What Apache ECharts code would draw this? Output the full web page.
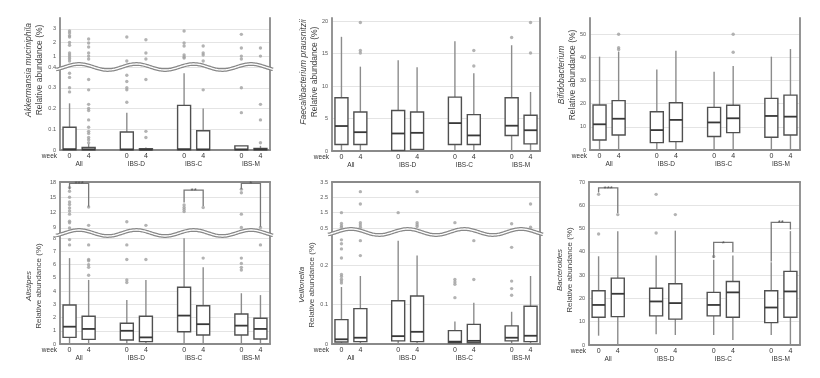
<!DOCTYPE html>
<html>
<head>
<meta charset="utf-8">
<script src="https://cdn.jsdelivr.net/npm/echarts@6/dist/echarts.min.js"></script>
<style>
  html, body { margin: 0; background: #fff; }
  #chart { width: 820px; height: 378px; }
</style>
</head>
<body>
<div id="chart"></div>
<script>
// box order: All 0/4, IBS-D 0/4, IBS-C 0/4, IBS-M 0/4
const positions = [0, 1, 3, 4, 6, 7, 9, 10];
const weekLabels = ['0', '4', '0', '4', '0', '4', '0', '4'];
const groups = ['All', 'IBS-D', 'IBS-C', 'IBS-M'];
const groupCenters = [0.5, 3.5, 6.5, 9.5];

// [min, Q1, median, Q3, max]
const akkStats = [
  [0, 0.001, 0.004, 0.11, 0.225], [0, 0.001, 0.003, 0.012, 0.03],
  [0, 0.001, 0.003, 0.087, 0.18], [0, 0.001, 0.002, 0.006, 0.012],
  [0, 0.001, 0.004, 0.215, 0.37], [0, 0.001, 0.003, 0.093, 0.2],
  [0, 0.001, 0.003, 0.02, 0.02], [0, 0.001, 0.003, 0.008, 0.02]
];
const akkOutliers = [
  [2.85, 2.7, 2.5, 2.4, 2.0, 1.8, 1.23, 1.08, 0.94, 0.8, 0.64, 0.37, 0.35, 0.3, 0.28],
  [2.26, 1.96, 1.67, 1.23, 1.0, 0.79, 0.34, 0.29, 0.22, 0.2, 0.19, 0.145, 0.11, 0.09, 0.08, 0.06, 0.05, 0.035],
  [2.4, 0.64, 0.36, 0.33, 0.3, 0.29, 0.23],
  [2.2, 1.23, 0.79, 0.34, 0.09, 0.06],
  [2.85, 1.96, 1.74, 1.08, 0.94, 0.86],
  [1.74, 1.23, 1.08, 0.64, 0.29],
  [2.6, 1.6, 1.0, 0.79, 0.3, 0.18],
  [1.6, 1.0, 0.22, 0.145, 0.035]
];
const akkLowerTicks = [0, 0.1, 0.2, 0.3, 0.4];
const akkUpperTicks = [1, 2, 3];

const faecalStats = [
  [0, 1.0, 3.85, 8.2, 17.6], [0, 1.0, 2.9, 6.0, 13.0],
  [0, 0.1, 2.7, 6.25, 14.0], [0, 0.25, 2.8, 6.0, 12.9],
  [0, 1.0, 4.3, 8.3, 16.9], [0, 1.0, 2.4, 5.6, 12.0],
  [0, 2.4, 3.9, 8.2, 16.3], [0, 1.1, 3.2, 5.5, 9.1]
];
const faecalOutliers = [[], [19.8, 15.5, 15.1], [], [], [], [15.5, 13.1], [17.5], [19.8, 15.1]];
const faecalTicks = [0, 5, 10, 15, 20];

const bifidoStats = [
  [0, 4.3, 11.1, 19.4, 40.3], [0, 6.5, 13.5, 21.3, 42.5],
  [0, 3.2, 8.6, 16.5, 34.8], [0, 3.6, 13.0, 20.4, 42.9],
  [0, 5.8, 11.9, 18.4, 33.8], [0, 7.5, 13.7, 19.3, 36.3],
  [0, 5.5, 14.7, 22.3, 40.3], [0, 6.5, 14.4, 23.7, 43.6]
];
const bifidoOutliers = [[], [50, 44.2, 43.4], [], [], [], [50, 42.2], [], []];
const bifidoTicks = [0, 10, 20, 30, 40, 50];

const alistipesStats = [
  [0.05, 0.5, 1.31, 2.95, 6.5], [0.05, 0.35, 1.14, 2.1, 4.85],
  [0.05, 0.3, 1.0, 1.57, 3.33], [0.05, 0.18, 0.5, 2.1, 4.85],
  [0.05, 0.93, 2.15, 4.3, 8.0], [0.05, 0.68, 1.5, 2.9, 5.8],
  [0.05, 0.68, 1.39, 2.27, 3.84], [0.05, 0.38, 1.14, 1.95, 3.7]
];
const alistipesOutliers = [
  [16.9, 16.2, 15.0, 14.1, 13.6, 12.9, 12.3, 11.7, 10.3, 10.0, 9.0, 7.9, 7.5],
  [13.1, 9.5, 7.5, 6.4, 6.3, 6.0, 5.8, 5.2],
  [10.2, 7.5, 6.4, 4.85, 4.65],
  [9.5, 6.4],
  [13.5, 13.0, 12.6, 12.2],
  [13.0, 6.5],
  [16.6, 15.9, 11.7, 9.1, 6.5, 6.1, 5.8, 5.6],
  [9.1, 7.5]
];
const alistipesLowerTicks = [0, 1, 2, 3, 4, 5, 6, 7, 8];
const alistipesUpperTicks = [9, 12, 15, 18];
// [left box, right box, top, left leg end, right leg end]
const alistipesSig = [[0, 1, 17.75, 16.6, 13.2], [6, 7, 16.4, 14.0, 13.3], [9, 10, 17.75, 16.6, 9.25]];
const alistipesMarks = ['***', '**', '*'];

const veillonellaStats = [
  [0, 0.005, 0.012, 0.062, 0.145], [0, 0.006, 0.016, 0.09, 0.173],
  [0, 0.008, 0.02, 0.11, 0.263], [0, 0.006, 0.031, 0.122, 0.225],
  [0, 0.003, 0.006, 0.034, 0.057], [0, 0.003, 0.008, 0.05, 0.105],
  [0, 0.008, 0.016, 0.046, 0.082], [0, 0.006, 0.021, 0.096, 0.173]
];
const veillonellaOutliers = [
  [1.5, 0.8, 0.65, 0.55, 0.265, 0.255, 0.242, 0.219, 0.177, 0.172, 0.165, 0.16, 0.155],
  [2.87, 2.07, 0.85, 0.7, 0.55, 0.263, 0.225],
  [1.5],
  [2.87, 0.85, 0.72, 0.6],
  [0.85, 0.164, 0.158, 0.152, 0.118],
  [0.263, 0.164],
  [0.78, 0.246, 0.16, 0.141, 0.124],
  [2.07, 0.55]
];
const veillonellaLowerTicks = [0, 0.1, 0.2];
const veillonellaUpperTicks = [0.5, 1.5, 2.5, 3.5];

const bacteroidesStats = [
  [4.0, 11.9, 17.2, 23.3, 38.1], [0, 12.2, 22.0, 28.7, 48.9],
  [4.6, 12.5, 18.7, 24.4, 38.4], [4.3, 11.1, 18.0, 26.3, 49.1],
  [4.3, 12.5, 17.2, 22.6, 36.6], [2.2, 11.9, 22.6, 27.3, 38.4],
  [4.3, 9.6, 16.1, 23.3, 35.5], [0, 11.9, 23.0, 31.6, 48.9]
];
const bacteroidesOutliers = [[64.7, 47.7], [56], [64.7, 48.1], [56], [38], [], [], []];
const bacteroidesTicks = [0, 10, 20, 30, 40, 50, 60, 70];
const bacteroidesSig = [[0, 1, 67.5, 65.5, 56.7], [6, 7, 44.1, 37.4, 39.8], [9, 10, 52.7, 35.9, 49.6]];
const bacteroidesMarks = ['***', '*', '**'];

const FONT = '"Liberation Sans", Arial, sans-serif';
const AXIS = '#8a8a8a';
const BOX_W = 13;

const panels = [
  { rect: [60, 18, 270, 150], breakY: 67, frameTop: false, title: 'Akkermansia muciniphila', nameAt: [34, 70], nameSize: 8.5,
    stats: akkStats, outliers: akkOutliers,
    lower: { max: 0.4, ticks: akkLowerTicks }, upper: { min: 0.2, max: 3.8, ticks: akkUpperTicks } },
  { rect: [332, 18, 540, 151], frameTop: false, title: 'Faecalibacterium prausnitzii', nameAt: [309, 72], nameSize: 8.5,
    stats: faecalStats, outliers: faecalOutliers, lower: { max: 20.5, ticks: faecalTicks } },
  { rect: [590, 18, 800, 150], frameTop: false, title: 'Bifidobacterium', nameAt: [567, 75], nameSize: 8.5,
    stats: bifidoStats, outliers: bifidoOutliers, lower: { max: 57, ticks: bifidoTicks } },
  { rect: [60, 182, 270, 344], breakY: 233, frameTop: true, title: 'Alistipes', nameAt: [34, 286], nameSize: 8,
    stats: alistipesStats, outliers: alistipesOutliers, sig: alistipesSig, marks: alistipesMarks,
    lower: { max: 8.4, ticks: alistipesLowerTicks }, upper: { min: 8, max: 18, ticks: alistipesUpperTicks } },
  { rect: [332, 182, 540, 344], breakY: 232, frameTop: true, title: 'Veillonella', nameAt: [307, 285], nameSize: 8,
    stats: veillonellaStats, outliers: veillonellaOutliers,
    lower: { max: 0.285, ticks: veillonellaLowerTicks }, upper: { min: 0.24, max: 3.5, ticks: veillonellaUpperTicks } },
  { rect: [589, 182, 800, 345], frameTop: true, title: 'Bacteroides', nameAt: [565, 270], nameSize: 8,
    stats: bacteroidesStats, outliers: bacteroidesOutliers, sig: bacteroidesSig, marks: bacteroidesMarks,
    lower: { max: 70, ticks: bacteroidesTicks } }
];

const option = { animation: false, textStyle: { fontFamily: FONT }, grid: [], xAxis: [], yAxis: [], series: [], graphic: [] };

function addGrid(l, t, r, b) {
  option.grid.push({ left: l, top: t, width: r - l, height: b - t, outerBoundsMode: 'none' });
  return option.grid.length - 1;
}

function addX(cfg) {
  option.xAxis.push(Object.assign({
    type: 'value', min: -0.5, max: 10.5,
    axisLine: { show: false, onZero: false }, axisTick: { show: false },
    axisLabel: { show: false }, splitLine: { show: false }
  }, cfg));
  return option.xAxis.length - 1;
}

function addY(cfg) {
  option.yAxis.push(Object.assign({
    type: 'value', axisTick: { show: false }, axisLabel: { show: false }, splitLine: { show: false },
    axisLine: { show: true, onZero: false, lineStyle: { color: AXIS, width: 1.8 } }
  }, cfg));
  return option.yAxis.length - 1;
}

function addValueAxes(gi, min, max, ticks) {
  const yi = addY({
    gridIndex: gi, min, max, position: 'left',
    axisTick: { show: false, customValues: ticks },
    axisLabel: { show: true, customValues: ticks, fontSize: 5.5, color: '#555', margin: 4 },
    splitLine: { show: true, lineStyle: { color: '#e4e4e4', width: 1 } }
  });
  addY({ gridIndex: gi, min, max, position: 'right' });
  return yi;
}

function renderBox(params, api) {
  const x = api.value(0);
  const lo = api.coord([x, api.value(1)]);
  const q1 = api.coord([x, api.value(2)]);
  const md = api.coord([x, api.value(3)]);
  const q3 = api.coord([x, api.value(4)]);
  const hi = api.coord([x, api.value(5)]);
  const w = BOX_W / 2;
  const whisker = { stroke: '#8c8c8c', lineWidth: 1.4 };
  return {
    type: 'group',
    children: [
      { type: 'line', shape: { x1: lo[0], y1: lo[1], x2: q1[0], y2: q1[1] }, style: whisker },
      { type: 'line', shape: { x1: q3[0], y1: q3[1], x2: hi[0], y2: hi[1] }, style: whisker },
      { type: 'rect', shape: { x: q3[0] - w, y: q3[1], width: 2 * w, height: q1[1] - q3[1] },
        style: { stroke: '#505050', lineWidth: 1.4, fill: '#fff' } },
      { type: 'line', shape: { x1: md[0] - w, y1: md[1], x2: md[0] + w, y2: md[1] },
        style: { stroke: '#383838', lineWidth: 1.8 } }
    ]
  };
}

function bracketRenderer(marks) {
  return function (params, api) {
    const a = api.coord([api.value(0), api.value(2)]);
    const b = api.coord([api.value(1), api.value(2)]);
    const l = api.coord([api.value(0), api.value(3)]);
    const r = api.coord([api.value(1), api.value(4)]);
    return {
      type: 'group',
      children: [
        { type: 'polyline', shape: { points: [l, a, b, r] }, style: { stroke: '#777', lineWidth: 1.3, fill: null } },
        { type: 'text', x: (a[0] + b[0]) / 2, y: a[1] + 1,
          style: { text: marks[params.dataIndex], fontSize: 8, fontFamily: FONT, fill: '#555', align: 'center', verticalAlign: 'middle' } }
      ]
    };
  };
}

function wavePoints(p) {
  const [l, , r] = p.rect;
  const slot = (r - l) / 11;
  const pts = [];
  for (let x = l - 4; x <= r + 3; x += 1) {
    pts.push([x, p.breakY - 3 * Math.cos(2 * Math.PI * (x - l - slot) / (3 * slot))]);
  }
  return pts;
}

panels.forEach(p => {
  const [l, t, r, b] = p.rect;
  const broken = !!p.upper;
  const gLow = addGrid(l, broken ? p.breakY : t, r, b);
  const xLow = addX({
    gridIndex: gLow, position: 'bottom',
    name: 'week', nameLocation: 'start', nameGap: 3,
    nameTextStyle: { fontSize: 6.5, color: '#333', verticalAlign: 'top', padding: [3, 0, 0, 0] },
    axisLine: { show: true, onZero: false, lineStyle: { color: AXIS, width: 1.8 } },
    axisTick: { show: false, customValues: positions },
    axisLabel: { show: true, customValues: positions, fontSize: 7, color: '#333', margin: 3,
      formatter: v => weekLabels[positions.indexOf(v)] }
  });
  addX({
    gridIndex: gLow, position: 'bottom', offset: 9,
    axisTick: { show: false, customValues: groupCenters },
    axisLabel: { show: true, customValues: groupCenters, fontSize: 6.5, color: '#333', margin: 2,
      formatter: v => groups[groupCenters.indexOf(v)] }
  });
  const yLow = addValueAxes(gLow, 0, p.lower.max, p.lower.ticks);

  let xTop = xLow, yTop = yLow, gTop = gLow;
  if (broken) {
    gTop = addGrid(l, t, r, p.breakY);
    xTop = addX({ gridIndex: gTop, position: 'bottom' });
    yTop = addValueAxes(gTop, p.upper.min, p.upper.max, p.upper.ticks);
  }
  if (p.frameTop) {
    addX({ gridIndex: gTop, position: 'top',
      axisLine: { show: true, onZero: false, lineStyle: { color: AXIS, width: 1.8 } } });
  }

  option.series.push({
    type: 'custom', xAxisIndex: xLow, yAxisIndex: yLow, silent: true, z: 3,
    renderItem: renderBox, encode: { x: 0, y: [1, 2, 3, 4, 5] },
    data: p.stats.map((s, i) => [positions[i]].concat(s))
  });

  const lowPts = [], upPts = [];
  p.outliers.forEach((vals, i) => vals.forEach(v => {
    (broken && v > p.lower.max ? upPts : lowPts).push([positions[i], v]);
  }));
  const dot = { type: 'scatter', symbolSize: 3.4, itemStyle: { color: '#a0a0a0' }, silent: true, z: 4 };
  option.series.push(Object.assign({ xAxisIndex: xLow, yAxisIndex: yLow, data: lowPts }, dot));
  if (broken) option.series.push(Object.assign({ xAxisIndex: xTop, yAxisIndex: yTop, data: upPts }, dot));

  if (p.sig) {
    option.series.push({
      type: 'custom', xAxisIndex: xTop, yAxisIndex: yTop, silent: true, z: 5, clip: false,
      renderItem: bracketRenderer(p.marks), encode: { x: [0, 1], y: [2, 3, 4] },
      data: p.sig
    });
  }

  if (broken) {
    const pts = wavePoints(p);
    option.graphic.push({ type: 'polyline', z: 100, shape: { points: pts }, style: { stroke: '#888', lineWidth: 3.8, fill: null } });
    option.graphic.push({ type: 'polyline', z: 101, shape: { points: pts }, style: { stroke: '#fff', lineWidth: 1.3, fill: null } });
  }

  const rich = {
    i: { fontStyle: 'italic', fontSize: p.nameSize, fontFamily: FONT, fill: '#444', lineHeight: p.nameSize + 2 },
    n: { fontSize: p.nameSize, fontFamily: FONT, fill: '#444', lineHeight: p.nameSize + 2 }
  };
  option.graphic.push({
    type: 'text', x: p.nameAt[0], y: p.nameAt[1], rotation: Math.PI / 2, z: 100,
    style: { text: '{i|' + p.title + '}\n{n|Relative abundance (%)}', rich, align: 'center', verticalAlign: 'middle' }
  });
});

const chart = echarts.init(document.getElementById('chart'), null, { renderer: 'canvas' });
chart.setOption(option);
</script>
</body>
</html>
